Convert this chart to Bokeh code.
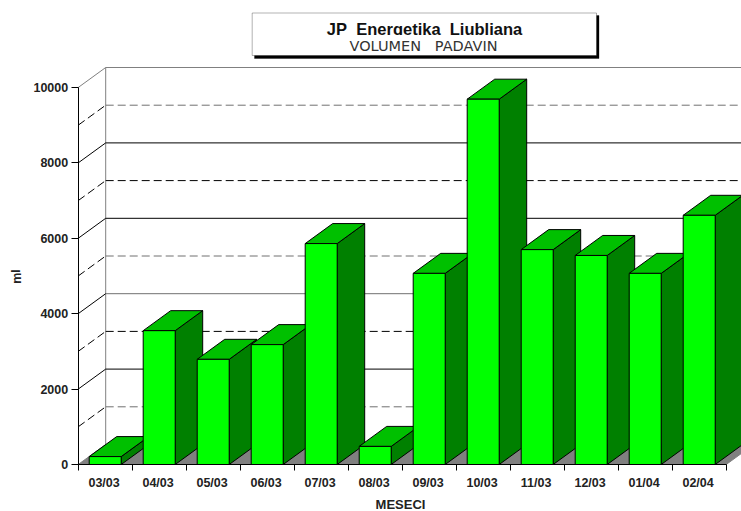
from bokeh.plotting import figure
from bokeh.models import FixedTicker, Label, BoxAnnotation, Range1d, LinearAxis
from bokeh.embed import file_html
from bokeh.resources import INLINE

months = ["03/03","04/03","05/03","06/03","07/03","08/03","09/03","10/03","11/03","12/03","01/04","02/04"]
volumes = [210, 3550, 2790, 3180, 5860, 480, 5070, 9690, 5700, 5545, 5070, 6610]
y_ticks = [0, 2000, 4000, 6000, 8000, 10000]
solid_levels = [2000, 4000, 6000, 8000]
dashed_levels = [1000, 3000, 5000, 7000, 9000]
title_main = "JP\u00a0\u00a0Energetika\u00a0\u00a0Ljubljana"
title_sub = "VOLUMEN\u00a0\u00a0\u00a0PADAVIN"

# chart scale (pixels per unit)
PXX, PXY = 54.0, 0.0377
X0, Y0 = 77.7, 464.0            # picture pixel of data origin
W, H = 741, 511
DX, DY = 27.5 / PXX, 20 / PXY   # 3-D depth in data units
BAR_OFF, BAR_W = 11 / PXX, 32 / PXX
n = len(months)

def fx(px): return (px - X0) / PXX
def fy(py): return (Y0 - py) / PXY

p = figure(width=W, height=H, output_backend="svg", toolbar_location=None,
           x_range=Range1d(fx(0), fx(W)), y_range=Range1d(fy(H), fy(0)),
           min_border_left=0, min_border_right=0, min_border_top=0, min_border_bottom=0,
           background_fill_color="white", border_fill_color="white")
p.xgrid.visible = False
p.ygrid.visible = False
p.outline_line_color = None
p.xaxis.visible = False
p.yaxis.visible = False

# floor
p.patch([0, n, n + DX, DX], [0, 0, DY, DY], fill_color="#808080", line_color="#808080", line_width=1)

# back wall and side wall lines
GRAY_LEVELS = {1000, 4000, 5000, 9000}
def wall_col(v): return "#707070" if v in GRAY_LEVELS else "black"
p.segment([DX], [DY], [DX], [10000 + DY], line_color="#808080", line_width=1)
p.segment([0], [10000], [DX], [10000 + DY], line_color="#808080", line_width=1)
p.segment([DX], [10000 + DY], [n + DX], [10000 + DY], line_color="#808080", line_width=1)
p.segment([DX] * len(solid_levels), [v + DY for v in solid_levels],
          [n + DX] * len(solid_levels), [v + DY for v in solid_levels],
          line_color=[wall_col(v) for v in solid_levels], line_width=1)
p.segment([0] * len(solid_levels), solid_levels, [DX] * len(solid_levels),
          [v + DY for v in solid_levels], line_color="black", line_width=1)
p.segment([DX] * len(dashed_levels), [v + DY for v in dashed_levels],
          [n + DX] * len(dashed_levels), [v + DY for v in dashed_levels],
          line_color=[wall_col(v) for v in dashed_levels], line_width=1, line_dash="8 4")
p.segment([0] * len(dashed_levels), dashed_levels, [DX] * len(dashed_levels),
          [v + DY for v in dashed_levels], line_color="black", line_width=1, line_dash="8 4")

# bars, painted left to right
xs, ys, cols = [], [], []
for i, v in enumerate(volumes):
    l = i + BAR_OFF
    r = l + BAR_W
    xs.append([r, r + DX, r + DX, r]); ys.append([0, DY, v + DY, v]); cols.append("#008000")
    xs.append([l, l + DX, r + DX, r]); ys.append([v, v + DY, v + DY, v]); cols.append("#00C000")
    xs.append([l, r, r, l]); ys.append([0, 0, v, v]); cols.append("#00FF00")
p.patches(xs, ys, fill_color=cols, line_color="black", line_width=1)

# axes
ax_y = LinearAxis(ticker=FixedTicker(ticks=y_ticks), bounds=(0, 10000), fixed_location=0,
                  axis_line_color="black", major_tick_line_color="black",
                  major_tick_in=0, major_tick_out=7, minor_tick_out=0, minor_tick_in=0,
                  major_label_text_font="Liberation Sans", major_label_text_font_style="bold",
                  major_label_text_font_size="12.5px", major_label_text_color="#222222",
                  major_label_standoff=3)
p.add_layout(ax_y, "left")
ax_x = LinearAxis(ticker=FixedTicker(ticks=[i + 0.48 for i in range(n)], minor_ticks=list(range(n + 1))),
                  bounds=(0, n), fixed_location=0,
                  major_label_overrides={i + 0.48: m for i, m in enumerate(months)},
                  axis_line_color="black", major_tick_in=0, major_tick_out=0,
                  minor_tick_line_color="black", minor_tick_in=0, minor_tick_out=6,
                  major_label_text_font="Liberation Sans", major_label_text_font_style="bold",
                  major_label_text_font_size="12.5px", major_label_text_color="#222222",
                  major_label_standoff=5)
p.add_layout(ax_x, "below")

# axis titles
for txt, px, py, ang, fs in [("MESECI", 400, 503.5, 0, "13px"), ("ml", 16, 276, 1.5708, "12.5px")]:
    p.add_layout(Label(x=fx(px), y=fy(py), text=txt, angle=ang, text_align="center",
                       text_baseline="middle", text_font="Liberation Sans", text_font_style="bold",
                       text_font_size=fs, text_color="#222222"))

# title box
p.add_layout(BoxAnnotation(left=fx(254), right=fx(598.5), top=fy(15), bottom=fy(58),
                           fill_color="black", fill_alpha=1, line_color="black"))
p.add_layout(BoxAnnotation(left=fx(251.7), right=fx(596), top=fy(12.5), bottom=fy(55),
                           fill_color="white", fill_alpha=1, line_color="black", line_width=1))
p.add_layout(Label(x=fx(424), y=fy(28), text=title_main, text_align="center", text_baseline="middle",
                   text_font="Liberation Sans", text_font_style="bold", text_font_size="16.5px", text_color="#111111"))
p.add_layout(BoxAnnotation(left=fx(300), right=fx(560), top=fy(34.5), bottom=fy(54),
                           fill_color="white", fill_alpha=1, line_color=None))
p.add_layout(Label(x=fx(423), y=fy(45), text=title_sub, text_align="center", text_baseline="middle",
                   text_font="DejaVu Sans", text_font_size="14.5px", text_color="#333333"))

open("out.html", "w").write(file_html(p, INLINE))
